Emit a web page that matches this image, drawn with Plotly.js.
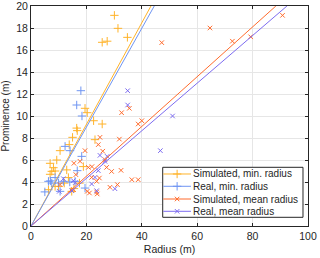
<!DOCTYPE html>
<html>
<head>
<meta charset="utf-8">
<script src="https://cdn.plot.ly/plotly-3.0.1.min.js"></script>
<style>html,body{margin:0;padding:0;background:#fff;}#chart{width:320px;height:258px;}</style>
</head>
<body>
<div id="chart"></div>
<script>
// Simulated, min. radius
const simMinR = [30.1, 31.4, 34.8, 25.7, 27.5, 19.5, 20.3, 22.6, 25.7, 16.5, 16.7, 15.0, 13.8, 10.5, 9.3, 6.9, 8.1, 7.5, 8.7, 6.9, 12.9, 13.5, 8.7, 9.9, 6.3, 14.7, 23.1, 18.9, 12.0, 15.5, 17.5];
const simMinP = [19.15, 17.97, 17.15, 16.7, 16.8, 10.7, 10.3, 9.57, 9.27, 8.9, 8.67, 8.06, 7.4, 6.85, 6.0, 5.7, 5.3, 4.97, 5.0, 4.7, 5.1, 4.4, 3.6, 3.6, 3.3, 3.15, 7.85, 5.4, 3.9, 3.4, 3.9];
// Real, min. radius
const realMinR = [18.0, 16.5, 18.4, 14.1, 18.3, 12.3, 16.7, 8.7, 6.3, 7.0, 5.0, 11.7, 10.5, 15.9, 19.5, 7.5, 9.9, 14.0];
const realMinP = [12.3, 11.0, 10.0, 6.85, 6.33, 7.24, 5.03, 4.4, 4.06, 4.1, 3.1, 4.06, 3.15, 4.06, 3.45, 3.9, 3.9, 4.0];
// Simulated, mean radius
const simMeanR = [90.8, 64.6, 72.7, 79.3, 47.2, 35.5, 32.7, 40.0, 38.7, 24.9, 31.9, 24.3, 25.9, 19.5, 26.7, 17.7, 15.5, 20.7, 22.0, 27.3, 29.1, 32.5, 16.2, 21.9, 24.7, 23.7, 36.4, 38.7, 31.2, 28.5, 10.5, 15.3, 20.3, 21.1, 23.7, 23.9];
const simMeanP = [19.15, 18.0, 16.8, 17.2, 16.67, 10.7, 10.3, 9.57, 9.27, 8.06, 7.9, 7.4, 6.8, 6.85, 6.03, 5.88, 5.7, 5.33, 5.4, 5.33, 4.96, 5.06, 4.67, 4.42, 4.36, 4.06, 4.21, 4.21, 3.76, 3.52, 3.76, 3.3, 3.15, 3.0, 3.09, 2.91];
// Real, mean radius
const realMeanR = [34.9, 34.9, 51.1, 46.7, 24.9, 27.5, 26.7, 24.3, 11.7, 15.3, 16.0, 23.1, 21.9, 30.3, 23.7, 14.7, 10.2];
const realMeanP = [12.3, 11.0, 10.0, 6.85, 6.42, 6.33, 5.88, 5.03, 4.3, 4.12, 3.95, 4.42, 3.82, 3.39, 3.21, 3.21, 3.15];
// Linear fits through origin (endpoints at top of axis)
const fitSimMinX = [0, 43.3], fitSimMinY = [0, 20];
const fitRealMinX = [0, 44.5], fitRealMinY = [0, 20];
const fitSimMeanX = [0, 88.4], fitSimMeanY = [0, 20];
const fitRealMeanX = [0, 92.4], fitRealMeanY = [0, 20];

const names = ['Simulated, min. radius', 'Real, min. radius', 'Simulated, mean radius', 'Real, mean radius'];
const colors = ['#FFB329', '#6F95F2', '#FF6B2C', '#7D6CF0'];
const symbols = ['cross-thin-open', 'cross-thin-open', 'x-thin-open', 'x-thin-open'];
const FONT = 'Liberation Sans, Arial, sans-serif';

const series = [
  [simMinR, simMinP, fitSimMinX, fitSimMinY],
  [realMinR, realMinP, fitRealMinX, fitRealMinY],
  [simMeanR, simMeanP, fitSimMeanX, fitSimMeanY],
  [realMeanR, realMeanP, fitRealMeanX, fitRealMeanY]
];

function markerFor(i) {
  return {symbol: symbols[i], size: i < 2 ? 6 : 4.5, color: colors[i], line: {color: colors[i], width: 1}};
}

const traces = [];
series.forEach((s, i) => {
  traces.push({x: s[0], y: s[1], type: 'scatter', mode: 'markers', showlegend: false, marker: markerFor(i)});
});
series.forEach((s, i) => {
  traces.push({x: s[2], y: s[3], type: 'scatter', mode: 'lines', showlegend: false,
    line: {color: colors[i], width: 1}});
});

// manual legend drawn on overlay axes (0..1 units, same domain as the plot)
const legBoxX = [0.4755, 0.9819, 0.9819, 0.4755, 0.4755];
const legBoxY = [0.0395, 0.0395, 0.2668, 0.2668, 0.0395];
const legRowY = [0.2364, 0.1805, 0.1227, 0.0668];
const legLineX = [0.4775, 0.5775];
const legMarkX = [0.5275];
traces.push({x: legBoxX, y: legBoxY, xaxis: 'x2', yaxis: 'y2', type: 'scatter', mode: 'lines',
  fill: 'toself', fillcolor: '#ffffff', line: {color: '#262626', width: 1}, showlegend: false, hoverinfo: 'skip'});
const annotations = [];
names.forEach((n, i) => {
  traces.push({x: legLineX, y: [legRowY[i], legRowY[i]], xaxis: 'x2', yaxis: 'y2', type: 'scatter', mode: 'lines',
    showlegend: false, hoverinfo: 'skip', line: {color: colors[i], width: 1}});
  traces.push({x: legMarkX, y: [legRowY[i]], xaxis: 'x2', yaxis: 'y2', type: 'scatter', mode: 'markers',
    showlegend: false, hoverinfo: 'skip', marker: markerFor(i)});
  annotations.push({xref: 'paper', yref: 'paper', x: 0.579, y: legRowY[i], xanchor: 'left', yanchor: 'middle',
    text: n, showarrow: false, font: {family: FONT, size: 10, color: '#262626'}});
});

const axisCommon = {
  showline: true, linecolor: '#262626', linewidth: 1, mirror: 'ticks',
  ticks: 'inside', ticklen: 3, tickcolor: '#262626', tickwidth: 1,
  showgrid: true, gridcolor: '#e6e6e6', gridwidth: 1, zeroline: false,
  ticklabeloverflow: 'allow',
  tickfont: {family: FONT, size: 10.5, color: '#262626'}
};

const layout = {
  width: 320, height: 258,
  margin: {l: 31, r: 12, t: 6, b: 32, pad: 0},
  paper_bgcolor: '#ffffff', plot_bgcolor: '#ffffff',
  showlegend: false,
  xaxis: Object.assign({}, axisCommon, {range: [0, 100], tickvals: [0, 20, 40, 60, 80, 100],
    title: {text: 'Radius (m)', standoff: 5, font: {family: FONT, size: 10.5, color: '#262626'}}}),
  yaxis: Object.assign({}, axisCommon, {range: [0, 20], tickvals: [0, 2, 4, 6, 8, 10, 12, 14, 16, 18, 20],
    title: {text: 'Prominence (m)', standoff: 4, font: {family: FONT, size: 10, color: '#262626'}}}),
  xaxis2: {overlaying: 'x', range: [0, 1], visible: false, fixedrange: true},
  yaxis2: {overlaying: 'y', range: [0, 1], visible: false, fixedrange: true},
  annotations: annotations
};

Plotly.newPlot('chart', traces, layout, {displayModeBar: false, staticPlot: true});
</script>
</body>
</html>
